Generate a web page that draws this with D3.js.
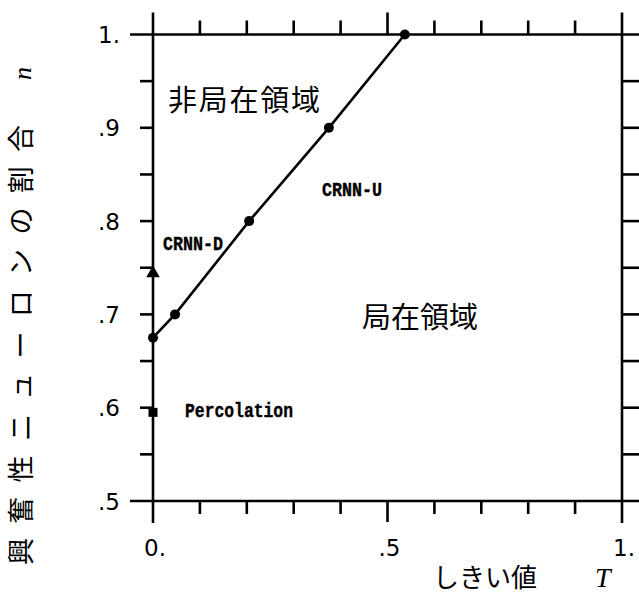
<!DOCTYPE html>
<html>
<head>
<meta charset="utf-8">
<script src="https://cdn.jsdelivr.net/npm/d3@7"></script>
<style>
  html, body { margin: 0; padding: 0; background: #fff; }
  svg { display: block; }
</style>
</head>
<body>
<svg id="chart" width="639" height="599"></svg>
<script>
// Threshold T vs. fraction of excitatory neurons n on the boundary
const boundaryT = [0, 0.047, 0.205, 0.375, 0.537];
const boundaryN = [0.675, 0.7, 0.8, 0.9, 1.0];

// Single reference points on the T = 0 axis
const crnnD = { T: 0, n: 0.745 };
const percolation = { T: 0, n: 0.595 };

const xTickValues = [0, 0.1, 0.2, 0.3, 0.4, 0.5, 0.6, 0.7, 0.8, 0.9, 1];
const xTickLabels = ["0.", ".5", "1."];
const xLabelValues = [0, 0.5, 1];
const yTickValues = [0.55, 0.6, 0.65, 0.7, 0.75, 0.8, 0.85, 0.9, 0.95];
const yLabelValues = [0.5, 0.6, 0.7, 0.8, 0.9, 1];
const yTickLabels = [".5", ".6", ".7", ".8", ".9", "1."];

const svg = d3.select("#chart");
const x = d3.scaleLinear().domain([0, 1]).range([153, 622]);
const y = d3.scaleLinear().domain([0.5, 1]).range([501, 34.5]);

const ink = "#000";
const axisW = 2.6;

// Frame: lines extend past the corners
const frame = svg.append("g").attr("stroke", ink).attr("stroke-width", axisW).attr("fill", "none");
frame.append("line").attr("x1", x(0) - 23).attr("x2", 639).attr("y1", y(1)).attr("y2", y(1));
frame.append("line").attr("x1", x(0) - 23).attr("x2", 639).attr("y1", y(0.5)).attr("y2", y(0.5));
frame.append("line").attr("x1", x(0)).attr("x2", x(0)).attr("y1", y(1) - 22).attr("y2", y(0.5) + 22);
frame.append("line").attr("x1", x(1)).attr("x2", x(1)).attr("y1", y(1) - 22).attr("y2", y(0.5) + 22);

// Bottom ticks (downward) and top ticks (upward)
const inner = xTickValues.filter(v => v > 0 && v < 1);
frame.selectAll(".tb").data(inner).join("line")
  .attr("x1", d => x(d)).attr("x2", d => x(d))
  .attr("y1", y(0.5)).attr("y2", d => y(0.5) + (d === 0.5 ? 21 : 13));
frame.selectAll(".tt").data(inner).join("line")
  .attr("x1", d => x(d)).attr("x2", d => x(d))
  .attr("y1", y(1)).attr("y2", d => y(1) - (d === 0.5 ? 22 : 14));

// Left ticks (outward) and right ticks (outward)
frame.selectAll(".tl").data(yTickValues).join("line")
  .attr("x1", x(0) - 13).attr("x2", x(0))
  .attr("y1", d => y(d)).attr("y2", d => y(d));
frame.selectAll(".tr").data(yTickValues).join("line")
  .attr("x1", x(1)).attr("x2", 639)
  .attr("y1", d => y(d)).attr("y2", d => y(d));

// Tick labels
const tickFont = "'DejaVu Sans', sans-serif";
svg.append("g").selectAll("text").data(xLabelValues).join("text")
  .attr("x", d => x(d) + 2).attr("y", 556)
  .attr("text-anchor", "middle")
  .attr("font-family", tickFont).attr("font-size", 23).attr("fill", ink)
  .text((d, i) => xTickLabels[i]);
svg.append("g").selectAll("text").data(yLabelValues).join("text")
  .attr("x", 120).attr("y", d => y(d) + 8.5)
  .attr("text-anchor", "end")
  .attr("font-family", tickFont).attr("font-size", 23).attr("fill", ink)
  .text((d, i) => yTickLabels[i]);

// Boundary line with circle markers
const line = d3.line().x((d, i) => x(boundaryT[i])).y(d => y(d));
svg.append("path").datum(boundaryN)
  .attr("d", line).attr("fill", "none").attr("stroke", ink).attr("stroke-width", 2.6);
svg.append("g").selectAll("circle").data(boundaryN).join("circle")
  .attr("cx", (d, i) => x(boundaryT[i])).attr("cy", d => y(d)).attr("r", 5).attr("fill", ink);

// CRNN-D triangle and percolation square
svg.append("path")
  .attr("d", d3.symbol().type(d3.symbolTriangle).size(80)())
  .attr("transform", `translate(${x(crnnD.T)},${y(crnnD.n) + 1})`)
  .attr("fill", ink);
svg.append("rect")
  .attr("x", x(percolation.T) - 4.5).attr("y", y(percolation.n) - 4.5)
  .attr("width", 9).attr("height", 9).attr("fill", ink);

// Annotations
const monoFont = "'Liberation Mono', monospace";
function tag(xp, yp, len, s) {
  svg.append("text").attr("x", xp).attr("y", yp).attr("font-family", monoFont)
    .attr("font-weight", "bold").attr("font-size", 20)
    .attr("stroke", ink).attr("stroke-width", 0.4)
    .attr("textLength", len).attr("lengthAdjust", "spacingAndGlyphs").text(s);
}
tag(163, 250, 60, "CRNN-D");
tag(322, 196, 60, "CRNN-U");
tag(185, 417, 108, "Percolation");

const cjk = "'Noto Sans CJK JP', sans-serif";
svg.append("text").attr("x", 168).attr("y", 111).attr("font-family", cjk)
  .attr("font-size", 29).attr("textLength", 152).attr("lengthAdjust", "spacing")
  .text("非局在領域");
svg.append("text").attr("x", 362).attr("y", 328).attr("font-family", cjk)
  .attr("font-size", 29).attr("textLength", 116).attr("lengthAdjust", "spacing")
  .text("局在領域");

// Axis titles
const xt = svg.append("text").attr("y", 587).attr("font-family", cjk).attr("font-size", 26).attr("fill", ink);
xt.append("tspan").attr("x", 433).text("しきい値");
xt.append("tspan").attr("x", 595).attr("font-family", "'Liberation Serif', serif")
  .attr("font-style", "italic").attr("font-size", 28).text("T");

const yt = svg.append("g").attr("transform", "translate(31,565) rotate(-90)");
yt.append("text").attr("x", 0).attr("y", 0).attr("font-family", cjk).attr("font-size", 27)
  .attr("textLength", 440).attr("lengthAdjust", "spacing")
  .text("興奮性ニューロンの割合");
yt.append("text").attr("x", 485).attr("y", 0).attr("font-family", "'Liberation Serif', serif")
  .attr("font-style", "italic").attr("font-size", 26).text("n");
</script>
</body>
</html>
